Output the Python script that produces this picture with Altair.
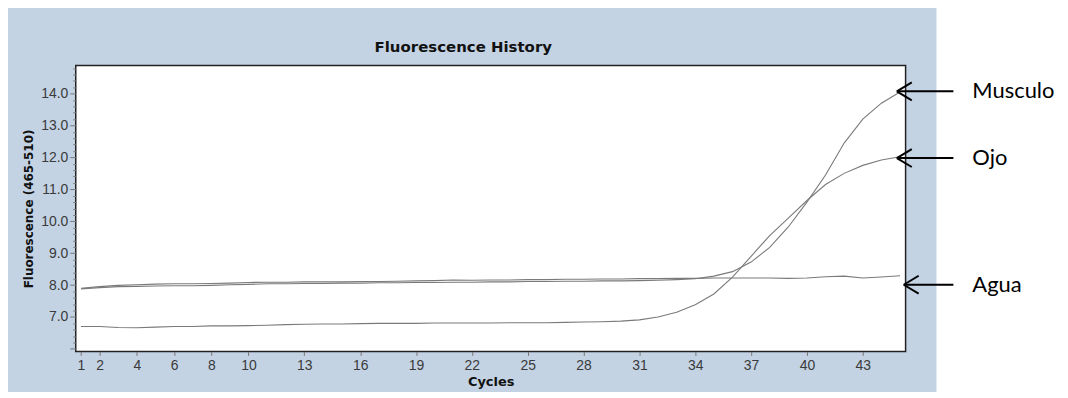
import altair as alt
import pandas as pd

# ---- data ----
cycles = list(range(1, 46))

musculo = [7.88, 7.92, 7.95, 7.96, 7.97, 7.98, 7.98, 7.99, 8.01, 8.02,
           8.04, 8.04, 8.05, 8.05, 8.06, 8.06, 8.07, 8.07, 8.08, 8.08,
           8.09, 8.09, 8.10, 8.10, 8.11, 8.11, 8.12, 8.12, 8.13, 8.13,
           8.14, 8.15, 8.17, 8.20, 8.28, 8.42, 8.72, 9.18, 9.82, 10.60,
           11.45, 12.45, 13.20, 13.70, 14.05]

ojo = [6.70, 6.70, 6.67, 6.66, 6.68, 6.70, 6.70, 6.72, 6.72, 6.73,
       6.74, 6.76, 6.77, 6.78, 6.78, 6.79, 6.80, 6.80, 6.80, 6.81,
       6.81, 6.81, 6.81, 6.82, 6.82, 6.82, 6.83, 6.84, 6.85, 6.87,
       6.91, 7.00, 7.15, 7.38, 7.72, 8.25, 8.90, 9.55, 10.10, 10.65,
       11.15, 11.50, 11.75, 11.92, 12.02]

agua = [7.90, 7.95, 7.99, 8.01, 8.03, 8.04, 8.04, 8.05, 8.06, 8.08,
        8.09, 8.09, 8.10, 8.10, 8.10, 8.11, 8.11, 8.12, 8.13, 8.14,
        8.16, 8.15, 8.16, 8.16, 8.17, 8.17, 8.18, 8.18, 8.19, 8.19,
        8.20, 8.20, 8.21, 8.21, 8.22, 8.22, 8.22, 8.22, 8.21, 8.22,
        8.26, 8.28, 8.22, 8.25, 8.29]

series_names = ["Musculo", "Ojo", "Agua"]

x_tick_values = [1, 2, 4, 6, 8, 10, 13, 16, 19, 22, 25, 28, 31, 34, 37, 40, 43]
y_ticks = [round(6.0 + 0.2 * i, 1) for i in range(45)]

chart_title = "Fluorescence History"
x_title = "Cycles"
y_title = "Fluorescence (465-510)"

# annotations (arrow tip cycle and value)
ann_labels = ["Musculo", "Ojo", "Agua"]
ann_value = [14.07, 11.98, 8.01]
ann_tip = [44.83, 44.83, 45.2]

# ---- tables ----
df = pd.DataFrame({
    "cycle": cycles * 3,
    "value": musculo + ojo + agua,
    "series": [n for n in series_names for _ in cycles],
})
ann_df = pd.DataFrame({"label": ann_labels, "value": ann_value, "tip": ann_tip})

W, H = 833, 287
xs = alt.Scale(domain=[0.72, 45.3], nice=False, zero=False)
ys = alt.Scale(domain=[5.92, 14.88], nice=False, zero=False)

is_major = "abs(datum.value - round(datum.value)) < 0.01"
show_label = is_major + " && datum.value > 6.5"

x_axis = alt.Axis(
    values=x_tick_values, title=x_title, grid=False, domain=False,
    tickSize=4, tickColor="#777777",
    labelFont="Liberation Sans", labelFontSize=14, labelColor="#3a3a3a",
    labelPadding=3, labelFlush=False, labelOverlap=False,
    titleFont="DejaVu Sans", titleFontSize=13, titleFontWeight="bold",
    titleColor="#111111", titleY=30, titleBaseline="middle",
)
y_axis = alt.Axis(
    values=y_ticks, title=y_title, grid=False, domain=False,
    tickSize={"condition": {"test": is_major, "value": 6}, "value": 3},
    tickColor="#777777",
    labelExpr=show_label + " ? format(datum.value, '.1f') : ''",
    labelFont="Liberation Sans", labelFontSize=14, labelColor="#3a3a3a",
    labelPadding=2, labelOverlap=False, labelFlush=False,
    titleFont="DejaVu Sans", titleFontSize=12, titleFontWeight="bold",
    titleColor="#111111", titleX=-47, titleY=H / 2, titleAngle=270,
    titleAlign="center", titleBaseline="middle",
)


def X(field):
    return alt.X(field, type="quantitative", scale=xs, axis=x_axis)


def Y(field):
    return alt.Y(field, type="quantitative", scale=ys, axis=y_axis)


# white area to the right of the blue panel
white = alt.Chart(pd.DataFrame({"k": [0]})).mark_rect(color="white").encode(
    x=alt.value(864), x2=alt.value(1010), y=alt.value(-60), y2=alt.value(340)
)

title = alt.Chart(pd.DataFrame({"t": [chart_title]})).mark_text(
    font="DejaVu Sans", fontSize=15, fontWeight="bold", color="#111111",
    align="center", baseline="middle"
).encode(x=alt.value(389), y=alt.value(-19), text="t:N")

lines = alt.Chart(df).mark_line(strokeWidth=1.1, color="#7a7a7a").encode(
    x=X("cycle"), y=Y("value"), detail="series:N"
)

shaft = alt.Chart(ann_df).mark_rule(color="black", strokeWidth=2).encode(
    x=X("tip"), x2=alt.value(881), y=Y("value")
)

head = alt.Chart(ann_df).mark_point(
    shape="M0,0L2,-1.2M0,0L2,1.2", size=225, filled=False,
    stroke="black", strokeWidth=2, opacity=1
).encode(x=X("tip"), y=Y("value"))

labels = alt.Chart(ann_df).mark_text(
    align="left", baseline="middle", font="Lato", fontSize=22, color="black"
).encode(x=alt.value(900), y=Y("value"), text="label:N")

chart = alt.layer(white, title, lines, shaft, head, labels).properties(
    width=W, height=H,
    padding={"left": 68, "top": 57, "right": 155, "bottom": 40},
    autosize=alt.AutoSizeParams(type="none"),
    background="#c3d3e4",
).configure_view(fill="white", stroke="#222222", strokeWidth=1.5)

chart.save("out.html", embed_options={"renderer": "svg", "actions": False})
